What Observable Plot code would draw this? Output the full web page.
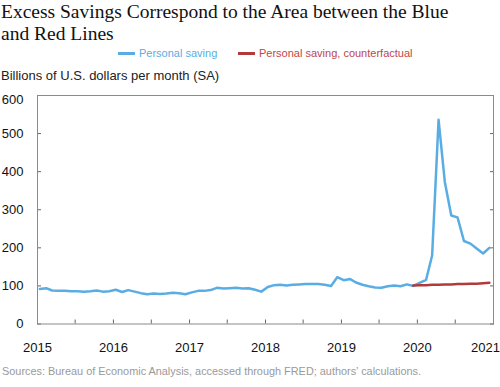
<!DOCTYPE html>
<html><head><meta charset="utf-8">
<script src="https://cdn.jsdelivr.net/npm/d3@7"></script>
<script src="https://cdn.jsdelivr.net/npm/@observablehq/plot@0.6"></script>
<style>
body{margin:0;background:#fff;width:500px;height:387px;position:relative;overflow:hidden;font-family:"Liberation Sans",Arial,sans-serif}
#title{position:absolute;left:1px;top:1px;font-family:"Liberation Serif","Times New Roman",serif;font-size:19.5px;line-height:22px;color:#111;width:499px;white-space:nowrap}
#legend{position:absolute;top:45px;left:0;width:500px;height:16px;font-size:11px;line-height:16px}
.item{position:absolute;top:0;display:flex;align-items:center;height:16px}
.sw{display:inline-block;width:17px;height:3px;margin-right:4px}
#ylab{position:absolute;left:1px;top:68px;font-size:13px;line-height:16px;color:#222}
#chart{position:absolute;left:0;top:85px}
#caption{position:absolute;left:2px;top:364px;font-size:10.9px;line-height:14px;color:#9a9a9a}
</style></head>
<body>
<div id="title">Excess Savings Correspond to the Area between the Blue<br>and Red Lines</div>
<div id="legend">
  <div class="item" style="left:118px;color:#5aade3"><span class="sw" style="background:#5aade3"></span>Personal saving</div>
  <div class="item" style="left:238px;color:#c0464a"><span class="sw" style="background:#b33a3a"></span>Personal saving, counterfactual</div>
</div>
<div id="ylab">Billions of U.S. dollars per month (SA)</div>
<div id="chart"></div>
<div id="caption">Sources: Bureau of Economic Analysis, accessed through FRED; authors’ calculations.</div>
<script>
// Monthly personal saving, Jan 2015 – Dec 2020 (billions of $ per month)
const saving = [
  92, 94, 88, 87, 87, 86, 86, 85, 86, 88, 85, 86,
  90, 84, 89, 85, 81, 78, 80, 79, 80, 82, 81, 78,
  83, 87, 87, 89, 95, 93, 94, 95, 93, 94, 90, 85,
  97, 102, 103, 101, 103, 104, 105, 105, 105, 103, 100, 123,
  115, 118, 109, 103, 99, 96, 95, 99, 101, 99, 104, 100,
  108, 116, 180, 536, 373, 285, 280, 218, 211, 198, 185, 200
];
// Counterfactual, Dec 2019 – Dec 2020
const counterfactual = [101, 102, 102, 103, 103, 104, 104, 105, 105, 106, 106, 107, 108];
const cfStartIndex = 59;
const yTicks = [0, 100, 200, 300, 400, 500, 600];
const xYears = [2015, 2016, 2017, 2018, 2019, 2020, 2021];

const monthDate = i => new Date(Date.UTC(2015, i, 12));
const savingData = saving.map((v, i) => ({date: monthDate(i), value: v}));
const cfData = counterfactual.map((v, i) => ({date: monthDate(cfStartIndex + i), value: v}));
const yearDates = xYears.map(y => new Date(Date.UTC(y, 0, 1)));
const halfYearDates = d3.utcMonth.every(6).range(new Date(Date.UTC(2015,0,1)), new Date(Date.UTC(2021,0,2)));

const tickColor = "#666";
const fmt = d3.utcFormat("%Y");
const chart = Plot.plot({
  width: 500,
  height: 275,
  marginTop: 10,
  marginBottom: 36.5,
  marginLeft: 37,
  marginRight: 7,
  style: {fontFamily: "'Liberation Sans', Arial, sans-serif", fontSize: "13px", color: "#111", background: "#fff"},
  x: {type: "utc", domain: [yearDates[0], yearDates[yearDates.length - 1]], label: null},
  y: {domain: [0, 600], label: null},
  marks: [
    // inward ticks
    Plot.axisY(yTicks, {anchor: "left", tickSize: 4, dx: 4, text: null, label: null, stroke: tickColor}),
    Plot.axisY(yTicks, {anchor: "right", tickSize: 4, dx: -4, text: null, label: null, stroke: tickColor}),
    Plot.axisX(halfYearDates, {anchor: "bottom", tickSize: 4, dy: -4, text: null, label: null, stroke: tickColor}),
    // labels
    Plot.axisY(yTicks.slice(0, -1), {anchor: "left", tickSize: 0, tickPadding: 14, label: null, fill: "#111"}),
    Plot.axisY(yTicks.slice(-1), {anchor: "left", tickSize: 0, tickPadding: 14, label: null, dy: 4, fill: "#111"}),
    Plot.axisX(yearDates.slice(0, -1), {anchor: "bottom", tickSize: 0, tickPadding: 19, tickFormat: fmt, label: null, fill: "#111"}),
    Plot.axisX(yearDates.slice(-1), {anchor: "bottom", tickSize: 0, tickPadding: 19, tickFormat: fmt, label: null, dx: -8, fill: "#111"}),
    Plot.frame({stroke: "#8a8a8a", strokeWidth: 1}),
    Plot.line(savingData, {x: "date", y: "value", stroke: "#5aade3", strokeWidth: 2.5, curve: "linear"}),
    Plot.line(cfData, {x: "date", y: "value", stroke: "#b33a3a", strokeWidth: 2.5})
  ]
});
document.getElementById("chart").appendChild(chart);
</script>
</body></html>
